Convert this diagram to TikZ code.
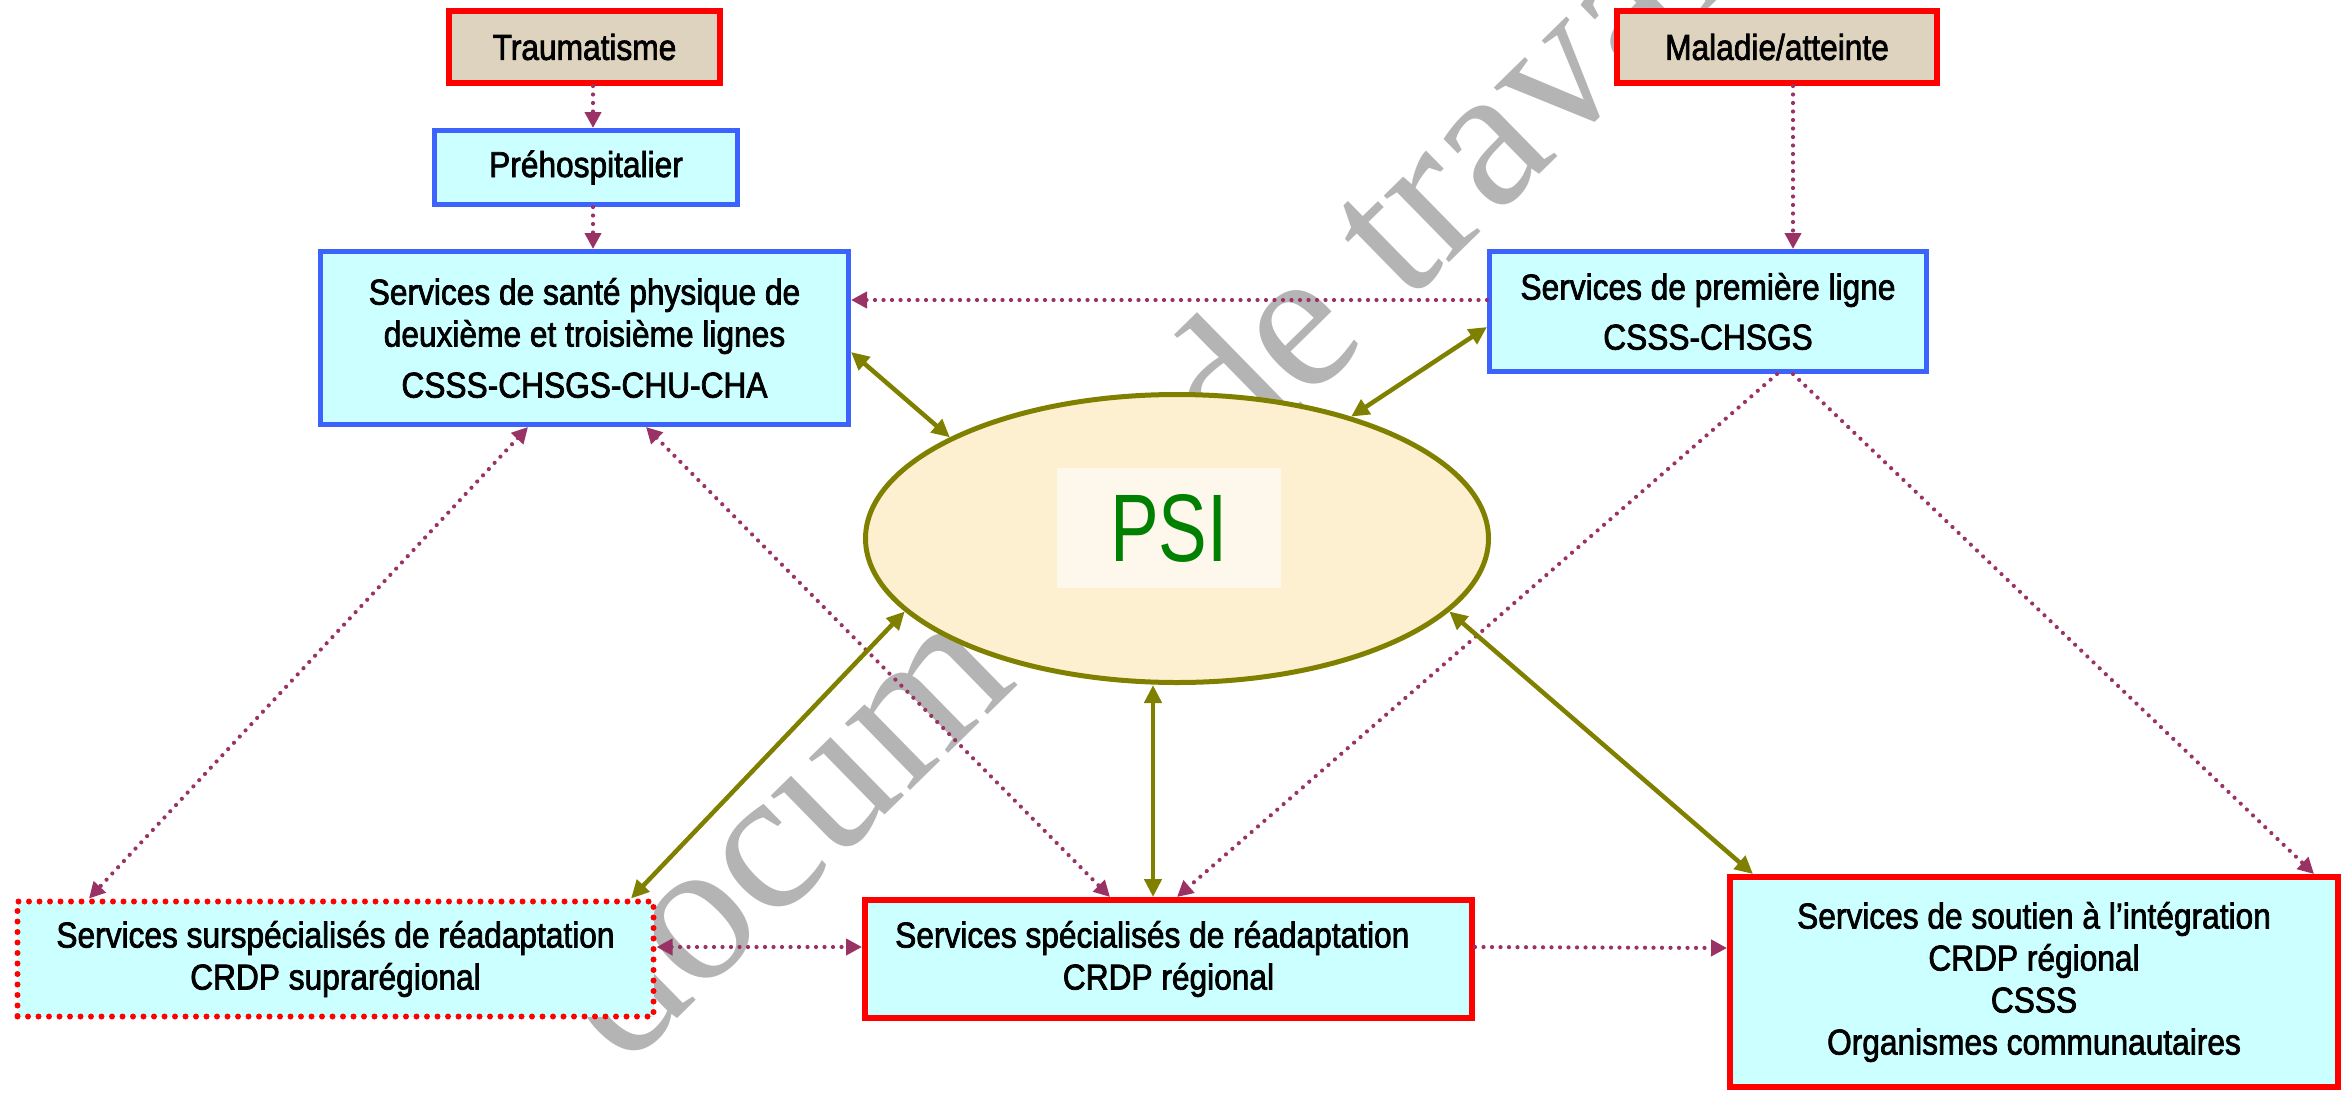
\documentclass[tikz,border=0pt]{standalone}
\usepackage{fontspec}
\setmainfont{Liberation Sans}[FakeStretch=0.88,FakeBold=2]
\newfontfamily\psifont{Liberation Sans}[FakeStretch=0.76]
\newfontfamily\wmfont{Liberation Serif}
\usetikzlibrary{arrows.meta,shapes.geometric,calc}

\definecolor{boxfill}{RGB}{204,255,255}
\definecolor{boxblue}{RGB}{61,99,255}
\definecolor{boxred}{RGB}{255,0,0}
\definecolor{burlap}{RGB}{222,211,190}
\definecolor{plum}{RGB}{153,51,102}
\definecolor{olivegreen}{RGB}{128,128,0}
\definecolor{cream}{RGB}{253,240,208}
\definecolor{palecream}{RGB}{254,248,236}
\definecolor{psigreen}{RGB}{0,128,0}
\definecolor{wmgray}{RGB}{180,180,180}

\tikzset{
  svcbox/.style={draw, fill=boxfill, inner sep=0pt, align=center, text=black,
    font=\fontsize{36}{42}\selectfont},
  bluebox/.style={svcbox, draw=boxblue, line width=5pt},
  redbox/.style={svcbox, draw=boxred, line width=6pt},
  dotbox/.style={svcbox, draw=boxred, line width=6pt, line cap=round,
    dash pattern=on 0pt off 10.5pt},
  eventbox/.style={svcbox, fill=burlap, draw=boxred, line width=6pt},
  link/.style={draw=plum, line width=4.2pt, line cap=round,
    dash pattern=on 0pt off 8.5pt},
  tipP/.style={-{Triangle[length=16pt,width=16pt]}},
  tipPP/.style={{Triangle[length=16pt,width=16pt]}-{Triangle[length=16pt,width=16pt]}},
  bond/.style={draw=olivegreen, line width=4.5pt,
    {Triangle[length=18pt,width=17pt]}-{Triangle[length=18pt,width=17pt]}},
}

\begin{document}
\begin{tikzpicture}[x=1pt,y=-1pt]
\useasboundingbox (0,0) rectangle (2344,1092);
\clip (0,0) rectangle (2344,1092);

% watermark
\node[font=\wmfont\fontsize{203}{203}\selectfont, text=wmgray, rotate=44.4,
  anchor=base, inner sep=0pt] (wm) at (1201,506) {document de travail};

% events
\node[eventbox, minimum width=271pt, minimum height=72pt] (trauma) at (584.5,47) {Traumatisme};
\node[eventbox, minimum width=320pt, minimum height=72pt] (maladie) at (1777,47) {Maladie/atteinte};

% service boxes
\node[bluebox, minimum width=303pt, minimum height=74pt] (prehosp) at (586,167.5) {Préhospitalier};
\node[bluebox, minimum width=528pt, minimum height=173pt] (sante) at (584.5,338)
  {Services de santé physique de\\deuxième et troisième lignes\\[9pt]CSSS-CHSGS-CHU-CHA};
\node[bluebox, minimum width=437pt, minimum height=120pt] (premiere) at (1708,311.5)
  {Services de première ligne\\[8pt]CSSS-CHSGS};
\node[dotbox, minimum width=636pt, minimum height=115pt] (sursp) at (335.5,959)
  {Services surspécialisés de réadaptation\\CRDP suprarégional};
\node[redbox, minimum width=607pt, minimum height=118pt] (spec) at (1168.5,959)
  {Services spécialisés de réadaptation\hspace*{0.9em}\\CRDP régional};
\node[redbox, minimum width=608pt, minimum height=210pt] (soutien) at (2034,982)
  {Services de soutien à l’intégration\\CRDP régional\\CSSS\\Organismes communautaires};

% central plan
\node[ellipse, draw=olivegreen, line width=5pt, fill=cream, inner sep=0pt,
  minimum width=623pt, minimum height=288pt] (psi) at (1177,538.5) {};
\node[fill=palecream, minimum width=224pt, minimum height=120pt, inner sep=0pt,
  text=psigreen, font=\psifont\fontsize{96}{96}\selectfont] (psitext) at (1169,528) {PSI};

% referrals (dotted)
\draw[link, tipP] ($(trauma.south)+(8.5,0)$) -- ($(prehosp.north)+(7,0)$);
\draw[link, tipP] ($(prehosp.south)+(7,0)$) -- ($(sante.north)+(8.5,0)$);
\draw[link, tipP] ($(maladie.south)+(16,0)$) -- ($(premiere.north)+(85,0)$);
\draw[link, tipP] ($(premiere.west)+(0,-11.5)$) -- ($(sante.east)+(0,-38)$);
\draw[link, tipPP] ($(sante.south)+(-56.5,0)$) -- ($(sursp.north)+(-246.5,0)$);
\draw[link, tipPP] ($(sante.south)+(61.5,0)$) -- ($(spec.north)+(-58.5,0)$);
\draw[link, tipP] ($(premiere.south)+(69,0)$) -- ($(spec.north)+(8.5,0)$);
\draw[link, tipP] ($(premiere.south)+(85,0)$) -- ($(soutien.north)+(280,0)$);
\draw[link, tipPP] ($(sursp.east)+(0,-12)$) -- ($(spec.west)+(0,-12)$);
\draw[link, tipP] ($(spec.east)+(0,-12)$) -- ($(soutien.west)+(0,-34)$);

% coordination links (olive)
\draw[bond] ($(sante.east)+(0,14)$) -- (psi.156);
\draw[bond] ($(premiere.west)+(0,15.5)$) -- (psi.35);
\draw[bond] (psi.195) -- ($(sursp.north)+(295.5,0)$);
\draw[bond] ($(psi.south)+(-24,0)$) -- ($(spec.north)+(-15.5,0)$);
\draw[bond] (psi.-15) -- ($(soutien.north)+(-281,0)$);
\end{tikzpicture}
\end{document}
